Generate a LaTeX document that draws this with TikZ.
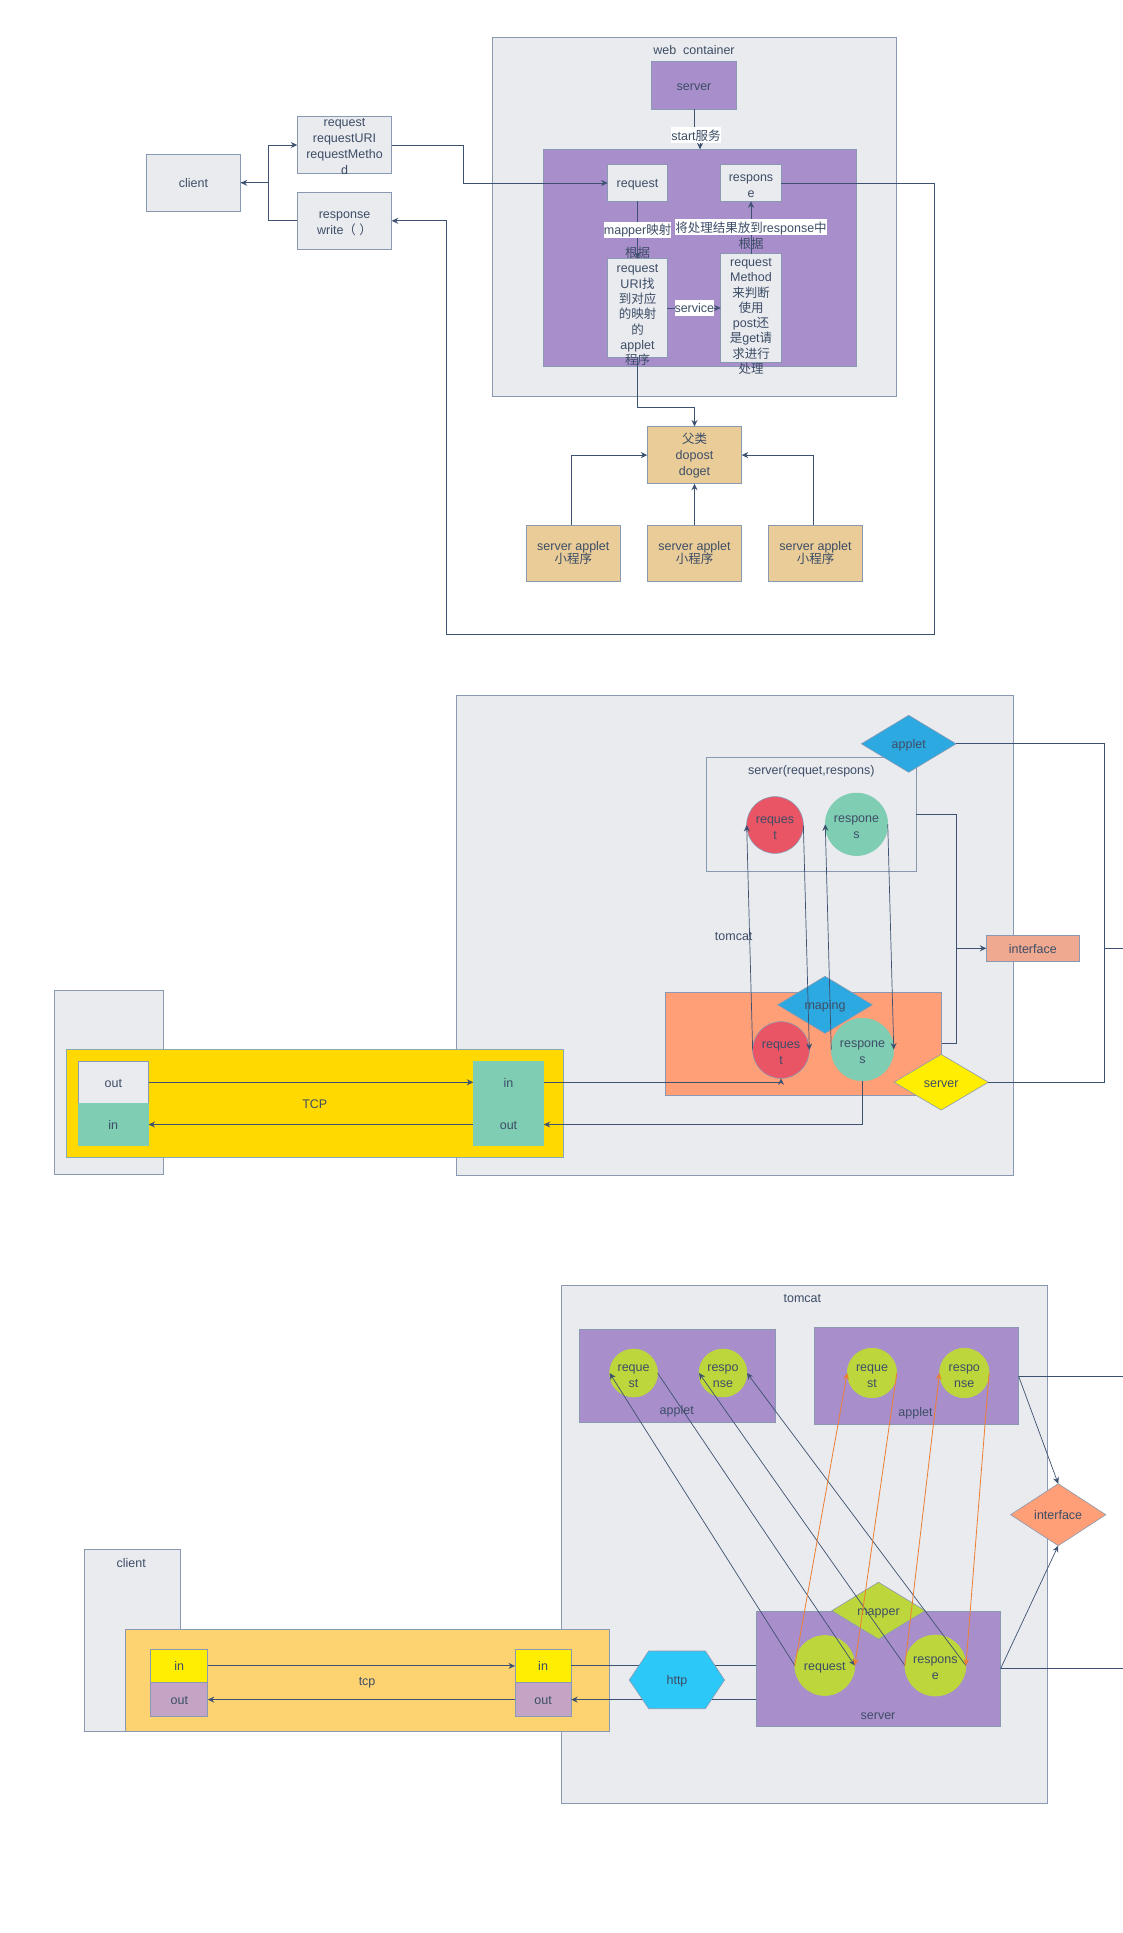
\documentclass[tikz,border=0pt]{standalone}
\usepackage{fontspec}
\setmainfont{Liberation Sans}
\newfontfamily\cjk{Noto Sans CJK SC}
\usetikzlibrary{arrows.meta,shapes.geometric}
\newcommand{\lowfirst}{\rule{0pt}{14pt}}
\definecolor{textcol}{HTML}{3D4D66}
\definecolor{linecol}{HTML}{3D5170}
\definecolor{edgecol}{HTML}{8A99B2}
\definecolor{panelcol}{HTML}{E9EBEF}
\definecolor{purplecol}{HTML}{A88FCB}
\definecolor{tancol}{HTML}{E9CC98}
\definecolor{tealcol}{HTML}{7FCDB3}
\definecolor{redcol}{HTML}{EA5565}
\definecolor{bluecol}{HTML}{2DA9E1}
\definecolor{salmoncol}{HTML}{FF9F77}
\definecolor{limecol}{HTML}{BDD63C}
\definecolor{orangecol}{HTML}{ED7D31}
\definecolor{goldcol}{HTML}{FFD900}
\definecolor{lemoncol}{HTML}{FFEE00}
\definecolor{sandcol}{HTML}{FDD271}
\definecolor{plumcol}{HTML}{C4A4C5}
\definecolor{skycol}{HTML}{2CC8F8}
\definecolor{peachcol}{HTML}{EEA990}
\tikzset{
  every node/.style={font=\fontsize{12.5}{16}\selectfont,text=textcol,inner sep=0pt,outer sep=0pt,align=center,
    execute at begin node={\rule{0pt}{12pt}},execute at end node={\rule[-2pt]{0pt}{2pt}}},
  tight/.style={font=\fontsize{12.5}{15.3}\selectfont},
  box/.style={draw=edgecol,line width=.8pt,fill=panelcol},
  plainbox/.style={fill=#1},
  disc/.style={circle,draw=edgecol,line width=.6pt,fill=#1},
  rhomb/.style={diamond,draw=edgecol,line width=.6pt,fill=#1},
  conn/.style={draw=linecol,line width=1pt},
  thinconn/.style={draw=linecol,line width=.7pt},
  hotconn/.style={draw=orangecol,line width=.8pt},
  tag/.style={fill=white,minimum height=16},
  >={Stealth[length=6.5pt,width=6pt]}
}
\begin{document}
\begin{tikzpicture}[x=1pt,y=-1pt]
\useasboundingbox (0,0) rectangle (1123,1933);

\node[box,minimum width=403.5,minimum height=358.7] (container) at (694.5,217) {};
\node (containertxt) at (694,49) {web\ \ container};
\node[box,fill=purplecol,minimum width=85.2,minimum height=48.2] (srvtop) at (694,85.3) {server};
\node[box,fill=purplecol,minimum width=313.4,minimum height=217.3] (work) at (700,258) {};
\node[box,minimum width=59.6,minimum height=36.6] (reqbox) at (637.5,183) {request};
\node[box,minimum width=60.6,minimum height=36.6] (respbox) at (751,183) {\lowfirst respons\\e};
\node[box,minimum width=59.6,minimum height=98.6] (uribox) at (637.5,308) {};
\node[box,minimum width=60.6,minimum height=108.6] (methbox) at (751,308) {};
\node[box,minimum width=94.4,minimum height=57] (client) at (193.5,182.8) {client};
\node[box,minimum width=94.4,minimum height=57.2] (reqinfo) at (344.5,145) {};
\node[box,minimum width=94.4,minimum height=57.2] (respinfo) at (344.5,220.8) {\lowfirst response\\write{\cjk（}\ {\cjk ）}};
\node[box,fill=tancol,minimum width=94.4,minimum height=57.2] (parent) at (694.5,455.1) {{\cjk 父类}\\dopost\\doget};
\node[box,fill=tancol,minimum width=93.9,minimum height=56.3] (appleta) at (573.3,553.5) {server applet\\[-2.4pt]{\cjk 小程序}};
\node[box,fill=tancol,minimum width=94.4,minimum height=56.3] (appletb) at (694.5,553.5) {server applet\\[-2.4pt]{\cjk 小程序}};
\node[box,fill=tancol,minimum width=94.4,minimum height=56.3] (appletc) at (815.5,553.5) {server applet\\[-2.4pt]{\cjk 小程序}};

\draw[conn,->] (srvtop.south) -- (694,130) -| (work.north);
\draw[conn,->] (reqbox.south) -- (uribox.north);
\draw[conn,->] (uribox.east) -- (methbox.west);
\draw[conn,->] (methbox.north) -- (respbox.south);
\draw[conn,->] (client.east) -- (268,182.8) |- (reqinfo.west);
\draw[conn,->] (respinfo.west) -- (268.3,220.8) |- (client.east);
\draw[conn,->] (reqinfo.east) -- (463.7,145) |- (reqbox.west);
\draw[conn,->] (respbox.east) -- (934.4,183) -- (934.4,634) -- (446.3,634) |- (respinfo.east);
\draw[conn,->] (uribox.south) -- (637.5,407.3) -| (parent.north);
\draw[conn,->] ([xshift=-2pt]appleta.north) |- (parent.west);
\draw[conn,->] (appletb.north) -- (parent.south);
\draw[conn,->] ([xshift=-2pt]appletc.north) |- (parent.east);

\node (reqinfotxt) at (344.5,147.6) {request\\requestURI\\requestMetho\\d};
\node[tight] (uritxt) at (637.5,315.8) {request\\URI{\cjk 找}\\{\cjk 到对应}\\{\cjk 的映射}\\{\cjk 的}\\applet\\{\cjk 程序}};
\node[tight] (methtxt) at (751,317) {request\\Method\\{\cjk 来判断}\\{\cjk 使用}\\post{\cjk 还}\\{\cjk 是}get{\cjk 请}\\{\cjk 求进行}\\{\cjk 处理}};
\node[tag] (starttag) at (696,135) {start{\cjk 服务}};
\node[tag] (mappertag) at (637.6,230) {mapper{\cjk 映射}};
\node (mappertagb) at (637.5,252) {\cjk 根据};
\node[tag] (resulttag) at (751,227.3) {{\cjk 将处理结果放到}response{\cjk 中}};
\node (resulttagb) at (751,243.6) {\cjk 根据};
\node[tag] (servicetag) at (694.3,307.5) {service};

\node[box,minimum width=557,minimum height=480] (tomcatb) at (735.1,935.3) {};
\node (tomcatbtxt) at (733.7,935) {tomcat};
\node[box,minimum width=108.7,minimum height=184] (sideb) at (108.8,1082.3) {};
\node[draw=edgecol!70!tealcol,line width=.8pt,fill=goldcol,minimum width=497.1,minimum height=108] (tcpb) at (314.8,1103.3) {TCP};
\node[box,minimum width=70.4,minimum height=42] (outl) at (113.3,1082.3) {out};
\node[plainbox=tealcol,minimum width=70.4,minimum height=42.4] (inl) at (113.3,1124.5) {in};
\node[plainbox=tealcol,minimum width=70.4,minimum height=42] (inr) at (508.5,1082.3) {in};
\node[plainbox=tealcol,minimum width=70.4,minimum height=42.4] (outr) at (508.5,1124.5) {out};
\node[box,minimum width=210,minimum height=114] (srvb) at (811.3,814.3) {};
\node (srvbtxt) at (811.3,770) {server(requet,respons)};
\node[box,fill=salmoncol,minimum width=276.4,minimum height=103] (engine) at (803.5,1043.8) {};
\node[rhomb=bluecol,minimum width=94.6,minimum height=57] (maping) at (825,1004.8) {maping};
\node[disc=redcol,minimum size=56.7] (reqb) at (775,825) {\lowfirst reques\\t};
\node[disc=tealcol,draw=tealcol,minimum size=62.5] (respb) at (856.5,824.3) {\lowfirst respone\\s};
\node[disc=redcol,minimum size=56.7] (reqc) at (781,1050) {\lowfirst reques\\t};
\node[disc=tealcol,draw=tealcol,minimum size=62.5] (respc) at (862.5,1049.5) {\lowfirst respone\\s};
\node[rhomb=bluecol,minimum width=94.7,minimum height=57] (appletd) at (908.7,743.8) {applet};
\node[rhomb=lemoncol,minimum width=94.3,minimum height=55.7] (serverd) at (941.2,1082.2) {server};
\node[box,fill=peachcol,minimum width=93,minimum height=26] (ifaceb) at (1032.8,948.3) {interface};
\coordinate (busa) at (956.3,948.3);
\coordinate (busb) at (1104.3,948.3);
\coordinate (edgeb) at (1123,948.3);

\draw[thinconn,->] (reqc.west) -- (reqb.west);
\draw[thinconn,->] (reqb.east) -- (reqc.east);
\draw[thinconn,->] (respc.west) -- (respb.west);
\draw[thinconn,->] (respb.east) -- (respc.east);
\draw[conn,->] (outl.east) -- (inr.west);
\draw[conn,->] (outr.west) -- (inl.east);
\draw[conn,->] (inr.east) -- (inr.east -| reqc.south) -- (reqc.south);
\draw[conn,->] (respc.south) |- (outr.east);
\draw[conn,->] (srvb.east) -| (busa) -- (ifaceb.west);
\draw[conn] (engine.east) -| (busa);
\draw[conn] (appletd.east) -| (busb) -- (edgeb);
\draw[conn] (serverd.east) -| (busb);

\node[box,minimum width=486.1,minimum height=517.8] (tomcatc) at (804,1544.3) {};
\node (tomcatctxt) at (802.4,1297) {tomcat};
\node[box,minimum width=95.6,minimum height=182.1] (sidec) at (132.2,1640.4) {};
\node (sidectxt) at (131.2,1562) {client};
\node[box,fill=sandcol,minimum width=484.1,minimum height=102.1] (tcpc) at (367.1,1680.4) {tcp};
\node[box,fill=lemoncol,minimum width=57,minimum height=33.2] (ina) at (179.3,1665.9) {in};
\node[box,fill=plumcol,minimum width=57,minimum height=34.3] (outa) at (179.3,1699.6) {out};
\node[box,fill=lemoncol,minimum width=56.2,minimum height=33.2] (inz) at (543.1,1665.9) {in};
\node[box,fill=plumcol,minimum width=56.2,minimum height=34.3] (outz) at (543.1,1699.6) {out};
\node[box,fill=purplecol,minimum width=196.8,minimum height=93.4] (appleta3) at (677.4,1376) {};
\node (appleta3txt) at (676.7,1410) {applet};
\node[box,fill=purplecol,minimum width=204.3,minimum height=97.4] (appletb3) at (916.4,1376) {};
\node (appletb3txt) at (915.5,1412) {applet};
\node[disc=limecol,draw=limecol,minimum size=48] (reqd) at (633.6,1373) {\lowfirst reque\\st};
\node[disc=limecol,draw=limecol,minimum size=48] (respd) at (723,1373) {\lowfirst respo\\nse};
\node[disc=limecol,draw=limecol,minimum size=49.6] (reqe) at (872,1373) {\lowfirst reque\\st};
\node[disc=limecol,draw=limecol,minimum size=49.6] (respe) at (964.3,1373) {\lowfirst respo\\nse};
\node[box,fill=purplecol,minimum width=244.2,minimum height=115.3] (srvc) at (878.5,1668.6) {};
\node (srvctxt) at (878,1714) {server};
\node[rhomb=limecol,minimum width=93.4,minimum height=56.7] (mapper) at (878.5,1610.7) {mapper};
\node[disc=limecol,draw=limecol,minimum size=60] (reqf) at (824.8,1665.5) {request};
\node[disc=limecol,draw=limecol,minimum size=61] (respf) at (935.4,1665.5) {\lowfirst respons\\e};
\node[rhomb=salmoncol,minimum width=95.2,minimum height=56] (ifacec) at (1058.2,1514.7) {interface};
\coordinate (edgec) at (1123,1376);
\coordinate (edged) at (1123,1668.6);

\draw[conn] (inz.east) -- (inz.east -| srvc.west);
\draw[conn,->] (outz.east -| srvc.west) -- (outz.east);
\draw[draw=edgecol,line width=.6pt,fill=skycol] (629.3,1680) -- (648.7,1651) -- (705.4,1651) -- (724.5,1680) -- (705.4,1708.7) -- (648.7,1708.7) -- cycle;
\node (httpc) at (677,1680) {http};
\draw[conn,->] (ina.east) -- (inz.west);
\draw[conn,->] (outz.west) -- (outa.east);
\draw[thinconn,->] (reqf.west) -- (reqd.west);
\draw[thinconn,->] (reqd.east) -- (reqf.east);
\draw[thinconn,->] (respf.west) -- (respd.west);
\draw[thinconn,->] (respf.east) -- (respd.east);
\draw[hotconn,->] (reqf.west) -- (reqe.west);
\draw[hotconn,->] (reqe.east) -- (reqf.east);
\draw[hotconn,->] (respf.west) -- (respe.west);
\draw[hotconn,->] (respe.east) -- (respf.east);
\draw[thinconn,->] (appletb3.east) -- (ifacec.north);
\draw[thinconn,->] (srvc.east) -- (ifacec.south);
\draw[conn] (appletb3.east) -- (edgec);
\draw[conn] (srvc.east) -- (edged);
\end{tikzpicture}
\end{document}
